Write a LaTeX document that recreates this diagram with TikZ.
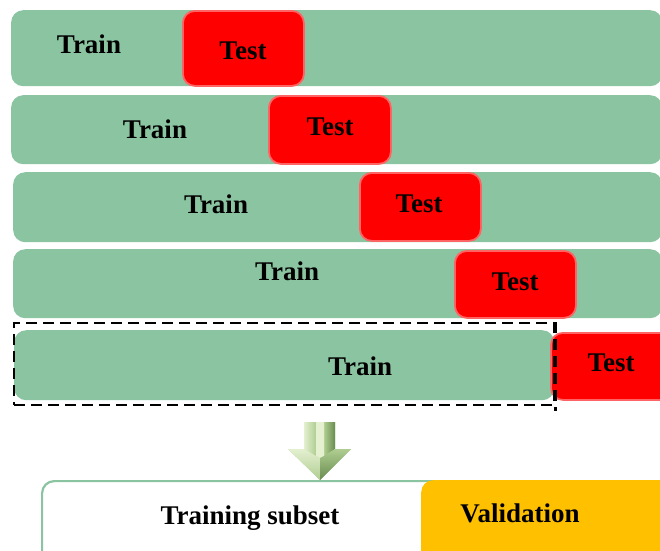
\documentclass[tikz,border=0pt]{standalone}
\usepackage{fontspec}
\setmainfont{Liberation Serif}
\definecolor{gfill}{RGB}{139,196,161}
\definecolor{rborder}{RGB}{255,100,100}
\definecolor{ofill}{RGB}{255,192,0}
\definecolor{alight}{RGB}{228,240,208}
\definecolor{amid}{RGB}{175,205,145}
\definecolor{adark}{RGB}{105,140,80}
\tikzset{
  gbox/.style={fill=gfill, draw=none, rounded corners=12pt, anchor=north west, inner sep=0pt},
  tbox/.style={fill=red, draw=rborder, line width=1.8pt, rounded corners=12pt, anchor=north west, inner sep=0pt},
  lbl/.style={font=\fontsize{27}{32}\selectfont\bfseries, inner sep=0pt, anchor=base},
}
\begin{document}
\begin{tikzpicture}[x=1pt,y=-1pt]
\useasboundingbox (0,0) rectangle (660,550);
% rows
\node[gbox, minimum width=651pt, minimum height=76pt] (g1) at (11,10) {};
\node[tbox, minimum width=121pt, minimum height=75pt] (t1) at (182,10) {};
\node[gbox, minimum width=651pt, minimum height=69pt] (g2) at (11,95) {};
\node[tbox, minimum width=122pt, minimum height=68pt] (t2) at (268,95) {};
\node[gbox, minimum width=649pt, minimum height=70pt] (g3) at (13,172) {};
\node[tbox, minimum width=121pt, minimum height=68pt] (t3) at (359,172) {};
\node[gbox, minimum width=649pt, minimum height=69pt] (g4) at (13,249) {};
\node[tbox, minimum width=121pt, minimum height=67pt] (t4) at (454,250) {};
\node[gbox, minimum width=540pt, minimum height=70pt] (g5) at (14,330) {};
\node[tbox, minimum width=130pt, minimum height=67pt] (t5) at (550,332) {};
% labels
\node[lbl] (l1a) at (89,53) {Train};
\node[lbl] (l1b) at (243,59) {Test};
\node[lbl] (l2a) at (155,138) {Train};
\node[lbl] (l2b) at (330,135) {Test};
\node[lbl] (l3a) at (216,213) {Train};
\node[lbl] (l3b) at (419,212) {Test};
\node[lbl] (l4a) at (287,280) {Train};
\node[lbl] (l4b) at (515,290) {Test};
\node[lbl] (l5a) at (360,375) {Train};
\node[lbl] (l5b) at (611,371) {Test};
% dashed selection
\node[draw=black, dash pattern=on 11pt off 6pt, line width=2.4pt, anchor=north west, inner sep=0pt, minimum width=540pt, minimum height=82pt] (sel) at (13,322) {};
\draw[line width=2.4pt, dash pattern=on 11pt off 6pt] (sel.north east) -- ++(0,89);
% bottom boxes
\node[fill=white, draw=gfill, line width=2.2pt, rounded corners=12pt, anchor=north west, inner sep=0pt, minimum width=660pt, minimum height=100pt] (train) at (41,480) {};
\node[fill=ofill, draw=none, rounded corners=12pt, anchor=north west, inner sep=0pt, minimum width=280pt, minimum height=100pt] (val) at (421,480) {};
\node[lbl] (ltr) at (250,524) {Training subset};
\node[lbl] (lval) at (520,522) {Validation};
% 3D arrow
\fill[amid] (304,422) -- (335,422) -- (335,449) -- (351,449) -- (320,480) -- (288,449) -- (304,449) -- cycle;
\shade[left color=alight, right color=amid] (304,422) -- (316,422) -- (316,456) -- (304,449) -- cycle;
\shade[left color=amid, right color=adark] (324,422) -- (335,422) -- (335,449) -- (324,456) -- cycle;
\fill[alight] (316,422) -- (324,422) -- (324,456) -- (320,458) -- (316,456) -- cycle;
\shade[top color=alight, bottom color=amid] (288,449) -- (304,449) -- (316,456) -- (320,458) -- (320,480) -- cycle;
\shade[top color=amid, bottom color=adark] (351,449) -- (335,449) -- (324,456) -- (320,458) -- (320,480) -- cycle;
\end{tikzpicture}
\end{document}
